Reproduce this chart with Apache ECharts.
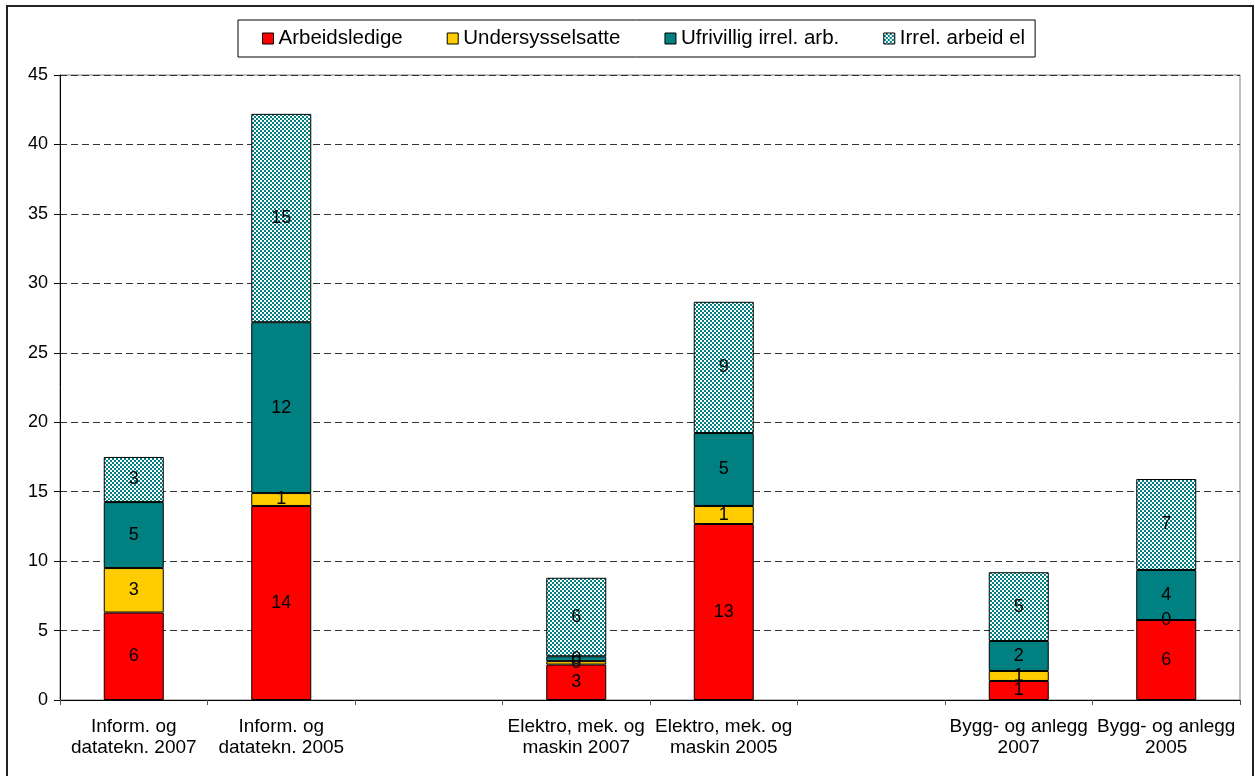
<!DOCTYPE html>
<html>
<head>
<meta charset="utf-8">
<script src="https://cdn.jsdelivr.net/npm/echarts@6/dist/echarts.min.js"></script>
<style>
  html, body { margin: 0; padding: 0; background: #fff; }
  #chart { width: 1255px; height: 776px; }
</style>
</head>
<body>
<div id="chart"></div>
<script>
// Categories (blank slots separate the three fields of study)
const categories = [
  'Inform. og\ndatatekn. 2007',
  'Inform. og\ndatatekn. 2005',
  '',
  'Elektro, mek. og\nmaskin 2007',
  'Elektro, mek. og\nmaskin 2005',
  '',
  'Bygg- og anlegg\n2007',
  'Bygg- og anlegg\n2005'
];

// Percentages per status group
const arbeidsledige     = [6.3, 13.97, null, 2.55, 12.67, null, 1.37, 5.76];
const undersysselsatte  = [3.2, 0.93,  null, 0.25, 1.3,   null, 0.72, 0];
const ufrivilligIrrel   = [4.75, 12.3, null, 0.35, 5.25,  null, 2.16, 3.6];
const irrelArbeidEl     = [3.25, 15.0, null, 5.65, 9.45,  null, 4.95, 6.55];

const seriesNames = ['Arbeidsledige', 'Undersysselsatte', 'Ufrivillig irrel. arb.', 'Irrel. arbeid el'];
const yTicks = { min: 0, max: 45, interval: 5 };

// Teal/white checkerboard fill
function checker() {
  const c = document.createElement('canvas');
  c.width = 4; c.height = 4;
  const g = c.getContext('2d');
  g.fillStyle = '#008080';
  g.fillRect(0, 0, 4, 4);
  g.fillStyle = '#ffffff';
  g.fillRect(0, 0, 2, 2);
  g.fillRect(2, 2, 2, 2);
  return c;
}
const checkerFill = { image: checker(), repeat: 'repeat' };

const fills = ['#FF0000', '#FFCC00', '#008080', checkerFill];
const values = [arbeidsledige, undersysselsatte, ufrivilligIrrel, irrelArbeidEl];

const FONT = 'Liberation Sans, Arial, sans-serif';

const chart = echarts.init(document.getElementById('chart'), null, { renderer: 'canvas' });

chart.setOption({
  animation: false,
  backgroundColor: '#fff',
  textStyle: { fontFamily: FONT, color: '#000' },
  graphic: [{
    type: 'rect',
    shape: { x: 7, y: 6, width: 1246, height: 790 },
    style: { fill: 'none', stroke: '#222', lineWidth: 2 },
    silent: true, z: 100
  }],
  legend: {
    data: seriesNames,
    icon: 'rect',
    left: 238,
    top: 20,
    itemWidth: 11,
    itemHeight: 11,
    itemGap: 44,
    padding: [8, 10, 8, 24],
    borderColor: '#000',
    borderWidth: 1,
    textStyle: { fontSize: 20.5, fontFamily: FONT, color: '#000' },
    itemStyle: { borderColor: '#000', borderWidth: 1 }
  },
  grid: {
    left: 60, right: 15, top: 75, bottom: 76,
    show: true, borderColor: '#808080', borderWidth: 1
  },
  xAxis: {
    type: 'category',
    data: categories,
    axisLine: { lineStyle: { color: '#000', width: 1 } },
    axisTick: { show: true, interval: 0, length: 5, lineStyle: { color: '#555' } },
    axisLabel: {
      interval: 0, fontSize: 19, lineHeight: 21, color: '#000', margin: 16,
      fontFamily: FONT
    },
    splitLine: { show: false }
  },
  yAxis: {
    type: 'value',
    min: yTicks.min, max: yTicks.max, interval: yTicks.interval,
    axisLine: { show: true, lineStyle: { color: '#000', width: 1 } },
    axisTick: { show: true, length: 6, lineStyle: { color: '#000' } },
    axisLabel: { fontSize: 18, color: '#000', margin: 12, fontFamily: FONT },
    splitLine: { show: true, lineStyle: { color: '#333', type: [7, 4], width: 1 } }
  },
  series: seriesNames.map((name, i) => ({
    name,
    type: 'bar',
    stack: 'total',
    barWidth: 60,
    data: values[i],
    itemStyle: { color: fills[i], borderColor: '#000', borderWidth: 1 },
    label: {
      show: true,
      position: 'inside',
      fontSize: 18,
      color: '#000',
      fontFamily: FONT,
      formatter: p => (p.value == null ? '' : String(Math.round(p.value)))
    }
  }))
});
</script>
</body>
</html>
